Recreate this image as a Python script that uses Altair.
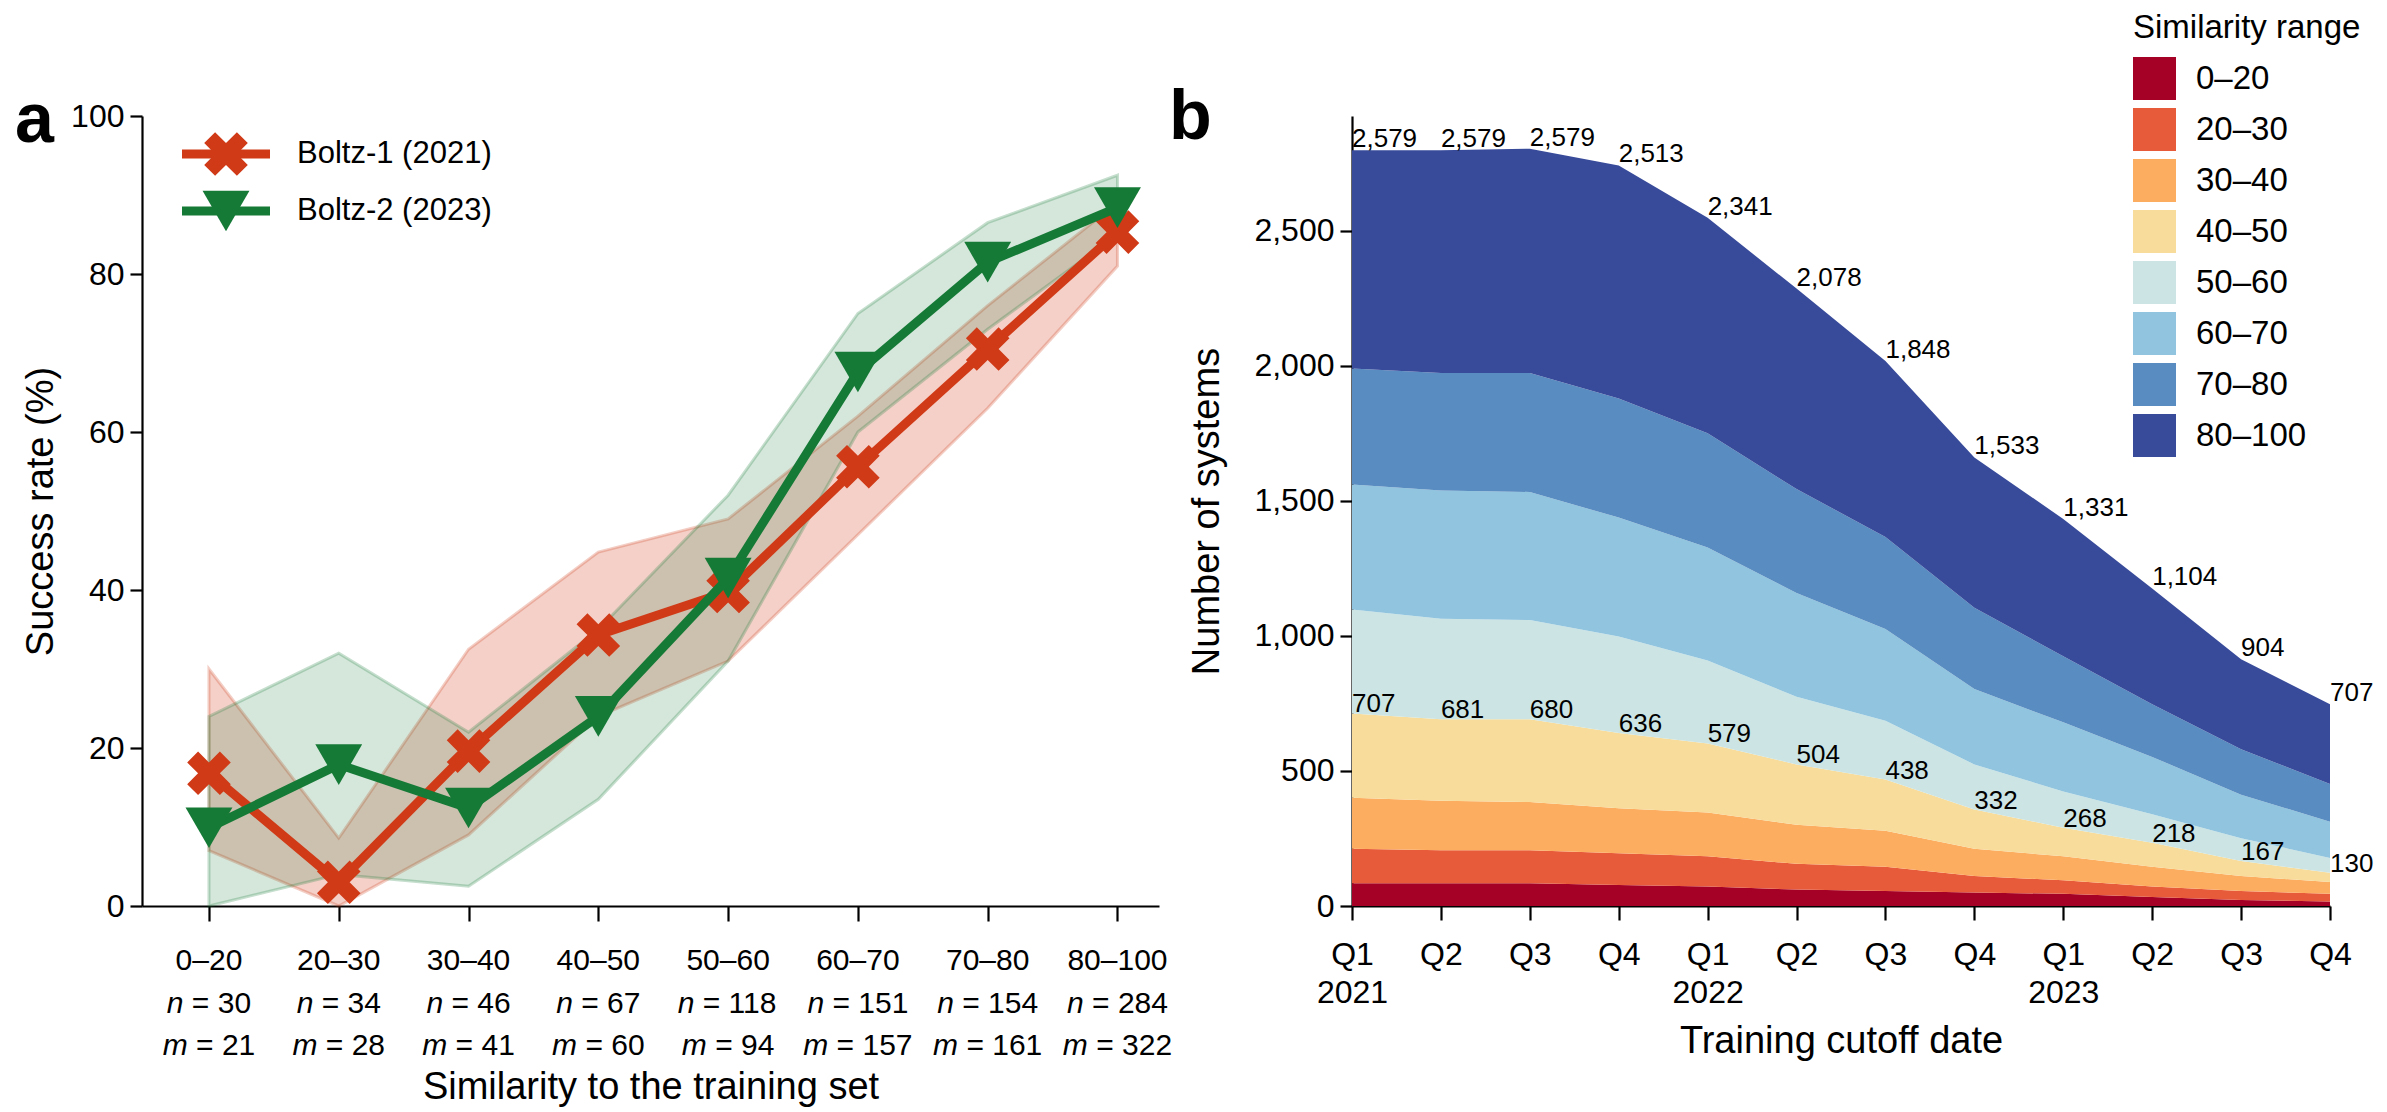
import json
import altair as alt
import pandas as pd

# ---------------- Panel a data ----------------
sim_cats = ["0–20", "20–30", "30–40", "40–50", "50–60", "60–70", "70–80", "80–100"]
n_counts = [30, 34, 46, 67, 118, 151, 154, 284]
m_counts = [21, 28, 41, 60, 94, 157, 161, 322]
series_names = ["Boltz-1 (2021)", "Boltz-2 (2023)"]
boltz1 = [16.8, 3.0, 19.6, 34.3, 39.8, 55.6, 70.5, 85.3]
boltz1_lo = [7.0, 0.0, 9.0, 24.0, 31.0, 47.0, 63.0, 81.0]
boltz1_hi = [30.0, 8.6, 32.5, 44.8, 49.0, 62.0, 76.0, 89.0]
boltz2 = [9.9, 17.9, 12.4, 24.0, 41.5, 67.6, 81.5, 88.4]
boltz2_lo = [0.0, 4.0, 2.5, 13.5, 31.0, 60.0, 73.0, 85.0]
boltz2_hi = [24.0, 32.0, 22.0, 35.0, 52.0, 75.0, 86.5, 92.5]
y_ticks_a = [0, 20, 40, 60, 80, 100]

# ---------------- Panel b data ----------------
quarter_labels = [["Q1", "2021"], "Q2", "Q3", "Q4",
                  ["Q1", "2022"], "Q2", "Q3", "Q4",
                  ["Q1", "2023"], "Q2", "Q3", "Q4"]
ranges = ["0–20", "20–30", "30–40", "40–50", "50–60", "60–70", "70–80", "80–100"]
c_0_20 = [84, 84, 84, 78, 72, 61, 56, 50, 45, 33, 22, 17]
c_20_30 = [128, 122, 122, 117, 112, 95, 89, 61, 50, 39, 34, 28]
c_30_40 = [189, 184, 179, 167, 162, 145, 134, 101, 89, 73, 55, 44]
c_40_50 = [312, 301, 306, 279, 256, 223, 189, 145, 106, 89, 56, 34]
c_50_60 = [385, 373, 368, 357, 307, 251, 218, 167, 134, 106, 84, 55]
c_60_70 = [463, 474, 474, 440, 418, 384, 340, 279, 256, 212, 161, 134]
c_70_80 = [429, 435, 440, 441, 423, 385, 340, 301, 245, 195, 168, 140]
c_80_100 = [808, 825, 831, 863, 798, 742, 652, 557, 508, 429, 334, 295]
top_labels = [2579, 2579, 2579, 2513, 2341, 2078, 1848, 1533, 1331, 1104, 904, 707]
low_labels = [707, 681, 680, 636, 579, 504, 438, 332, 268, 218, 167, 130]
y_ticks_b = [0, 500, 1000, 1500, 2000, 2500]

# ---------------- styles ----------------
RED = "#d03a17"
GREEN = "#167a37"
area_colors = ["#a50026", "#e85b3a", "#fdad60", "#f8dc9b",
               "#cce5e4", "#91c4de", "#598cc0", "#384b9b"]
FONT = "Liberation Sans"
X_SHAPE = "M-0.5,-1L0,-0.5L0.5,-1L1,-0.5L0.5,0L1,0.5L0.5,1L0,0.5L-0.5,1L-1,0.5L-0.5,0L-1,-0.5Z"
X_SIZE, TRI_SIZE = 1900, 2200

WA, HA = 1017, 790
WB, HB = 978, 790
SPACING = 193
TICK_FS, CAT_FS, TITLE_FS, ANN_FS, LEG_FS = 32, 30, 38, 26, 33

# ---------------- Panel a ----------------
dfa = pd.DataFrame({
    "idx": list(range(8)) * 2,
    "series": [series_names[0]] * 8 + [series_names[1]] * 8,
    "val": boltz1 + boltz2,
    "lo": boltz1_lo + boltz2_lo,
    "hi": boltz1_hi + boltz2_hi,
})

xa = alt.X("idx:Q", scale=alt.Scale(domain=[-0.516, 7.32], nice=False, zero=False),
           axis=alt.Axis(values=list(range(8)), labels=False, tickSize=15, domain=True,
                         title="Similarity to the training set", titlePadding=146))
ya_axis = alt.Axis(values=y_ticks_a, tickSize=12, labelPadding=6,
                   title="Success rate (%)", titlePadding=10)
ya_scale = alt.Scale(domain=[0, 100], nice=False)
ya = alt.Y("val:Q", scale=ya_scale, axis=ya_axis)

base_a = alt.Chart(dfa)
styles = [(series_names[0], RED, 0.24, X_SHAPE, X_SIZE),
          (series_names[1], GREEN, 0.18, "triangle-down", TRI_SIZE)]
layers_a = []
for name, col, op, shape, sz in styles:
    layers_a.append(
        base_a.transform_filter(alt.datum.series == name)
        .mark_area(color=col, fillOpacity=op, stroke=col, strokeOpacity=0.25, strokeWidth=3)
        .encode(x=xa, y=alt.Y("lo:Q", scale=ya_scale, axis=ya_axis), y2="hi:Q")
    )
for name, col, op, shape, sz in styles:
    sub = base_a.transform_filter(alt.datum.series == name)
    layers_a.append(sub.mark_line(color=col, strokeWidth=9).encode(x=xa, y=ya))
    layers_a.append(sub.mark_point(color=col, filled=True, opacity=1, shape=shape, size=sz)
                    .encode(x=xa, y=ya))

# x tick labels (three lines, italic n / m)
dfx = pd.DataFrame({"idx": list(range(8)), "cat": sim_cats,
                    "n": n_counts, "m": m_counts})
dfx["n_txt"] = ["= " + str(v) for v in n_counts]
dfx["m_txt"] = ["= " + str(v) for v in m_counts]
dfx["nd"] = [len(str(v)) for v in n_counts]
dfx["md"] = [len(str(v)) for v in m_counts]
base_x = alt.Chart(dfx)
layers_a.append(base_x.mark_text(fontSize=CAT_FS, font=FONT, baseline="middle")
                .encode(x=xa, y=alt.value(HA + 55), text="cat:N"))
em = CAT_FS
char_w = {"n": 0.556 * em, "m": 0.833 * em}
sp, eq, dg = 0.278 * em, 0.584 * em, 0.556 * em
for letter, field, dfield, yy in [("n", "n_txt", "nd", HA + 98), ("m", "m_txt", "md", HA + 140)]:
    for nd in (2, 3):
        total = char_w[letter] + sp + eq + sp + dg * nd
        start = -total / 2
        letter_end = start + char_w[letter]
        rest_start = letter_end + sp
        sub = base_x.transform_filter(alt.datum[dfield] == nd)
        layers_a.append(sub.mark_text(fontSize=CAT_FS, font=FONT, fontStyle="italic",
                                      align="right", baseline="middle", dx=letter_end)
                        .encode(x=xa, y=alt.value(yy), text=alt.value(letter)))
        layers_a.append(sub.mark_text(fontSize=CAT_FS, font=FONT, align="left",
                                      baseline="middle", dx=rest_start)
                        .encode(x=xa, y=alt.value(yy), text=f"{field}:N"))

# in-plot legend
for i, (name, col, op, shape, sz) in enumerate(styles):
    yy = 38 + 57 * i
    ld = alt.Chart(pd.DataFrame({"t": [name]}))
    layers_a.append(ld.mark_rule(color=col, strokeWidth=9)
                    .encode(x=alt.value(40), x2=alt.value(128), y=alt.value(yy)))
    layers_a.append(ld.mark_point(color=col, filled=True, opacity=1, shape=shape, size=sz)
                    .encode(x=alt.value(84), y=alt.value(yy)))
    layers_a.append(ld.mark_text(fontSize=31, font=FONT, align="left", baseline="middle")
                    .encode(x=alt.value(155), y=alt.value(yy), text="t:N"))

# panel letter
layers_a.append(alt.Chart(pd.DataFrame({"t": ["a"]}))
                .mark_text(fontSize=70, font=FONT, fontWeight="bold", align="left",
                           baseline="alphabetic")
                .encode(x=alt.value(-127), y=alt.value(26), text="t:N"))

panel_a = alt.layer(*layers_a).properties(width=WA, height=HA)

# ---------------- Panel b ----------------
series_b = [c_0_20, c_20_30, c_30_40, c_40_50, c_50_60, c_60_70, c_70_80, c_80_100]
rows = []
for k, (rng, vals) in enumerate(zip(ranges, series_b)):
    for q, v in enumerate(vals):
        rows.append({"idx": q, "range": rng, "ord": k, "count": v})
dfb = pd.DataFrame(rows)

totals = [sum(s[q] for s in series_b) for q in range(12)]
lows = [sum(s[q] for s in series_b[:4]) for q in range(12)]
dfl = pd.DataFrame({"idx": list(range(12)), "total": totals, "low": lows,
                    "top_txt": [f"{v:,}" for v in top_labels],
                    "low_txt": [f"{v:,}" for v in low_labels]})

label_expr = json.dumps(quarter_labels) + "[datum.value]"
xb = alt.X("idx:Q", scale=alt.Scale(domain=[0, 11], nice=False, zero=False),
           axis=alt.Axis(values=list(range(12)), labelExpr=label_expr, tickSize=14,
                         labelPadding=19, labelLineHeight=38, labelBaseline="top",
                         labelOverlap=False, labelFlush=False,
                         title="Training cutoff date", titlePadding=14))
yscale_b = alt.Scale(domain=[0, 2925], nice=False)
yaxis_b = alt.Axis(values=y_ticks_b, format=",.0f", tickSize=12, labelPadding=6,
                   title="Number of systems", titlePadding=27)

legend_b = alt.Legend(title="Similarity range", orient="none",
                      legendX=WA + SPACING + 781, legendY=-104,
                      symbolType="square", symbolSize=1849, symbolStrokeWidth=0,
                      symbolOpacity=1, labelFontSize=LEG_FS, labelFont=FONT,
                      titleFont=FONT, titleFontSize=LEG_FS, titleFontWeight="normal",
                      titleLimit=500, labelLimit=300,
                      rowPadding=8, labelOffset=20, titlePadding=12,
                      titleColor="black", labelColor="black")

area_b = alt.Chart(dfb).mark_area(interpolate="linear").encode(
    x=xb,
    y=alt.Y("count:Q", stack="zero", scale=yscale_b, axis=yaxis_b),
    color=alt.Color("range:N", scale=alt.Scale(domain=ranges, range=area_colors),
                    sort=ranges, legend=legend_b),
    order=alt.Order("ord:Q"),
)
top_text = alt.Chart(dfl).mark_text(align="left", baseline="alphabetic", dy=-3,
                                    fontSize=ANN_FS, font=FONT).encode(
    x=xb, y=alt.Y("total:Q", scale=yscale_b, axis=yaxis_b), text="top_txt:N")
low_text = alt.Chart(dfl).mark_text(align="left", baseline="alphabetic", dy=-1,
                                    fontSize=ANN_FS, font=FONT).encode(
    x=xb, y=alt.Y("low:Q", scale=yscale_b, axis=yaxis_b), text="low_txt:N")
letter_b = (alt.Chart(pd.DataFrame({"t": ["b"]}))
            .mark_text(fontSize=70, font=FONT, fontWeight="bold", align="left",
                       baseline="alphabetic")
            .encode(x=alt.value(-183), y=alt.value(23), text="t:N"))

panel_b = alt.layer(area_b, top_text, low_text, letter_b).properties(width=WB, height=HB)

chart = (
    alt.hconcat(panel_a, panel_b, spacing=SPACING, bounds="flush")
    .properties(padding={"left": 7, "top": 4, "right": 0, "bottom": 0})
    .configure_view(stroke=None)
    .configure_axis(labelFontSize=TICK_FS, titleFontSize=TITLE_FS, labelFont=FONT,
                    titleFont=FONT, labelColor="black", titleColor="black",
                    domainColor="black", tickColor="black", domainWidth=2.2,
                    tickWidth=2.2, grid=False, titleFontWeight="normal")
)

chart.save("out.html", embed_options={"renderer": "svg", "actions": False})
